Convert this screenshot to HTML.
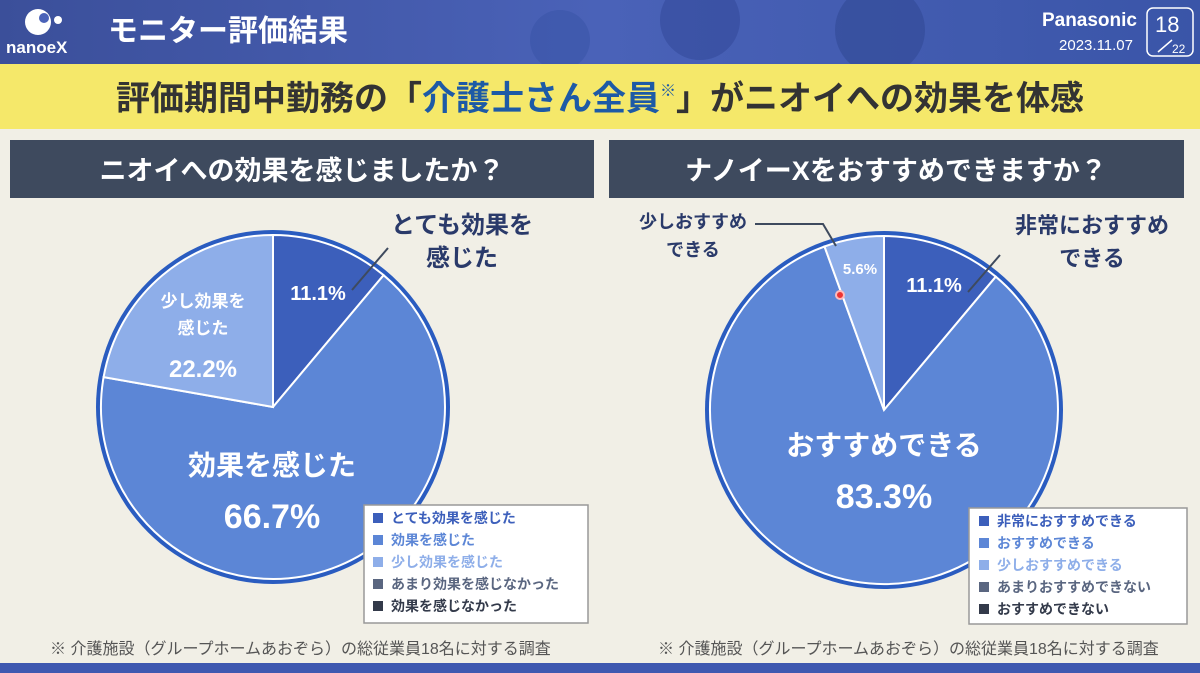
<!DOCTYPE html>
<html><head><meta charset="utf-8"><style>
body{margin:0;width:1200px;height:673px;overflow:hidden;font-family:"Liberation Sans","Noto Sans CJK JP",sans-serif;}
</style></head><body>
<svg width="1200" height="673" xmlns="http://www.w3.org/2000/svg" style="display:block">
<defs>
<linearGradient id="hd" x1="0" x2="1" y1="0" y2="0"><stop offset="0" stop-color="#3b4f9a"/><stop offset="0.5" stop-color="#4a62b8"/><stop offset="1" stop-color="#3a55a8"/></linearGradient>
</defs>
<rect width="1200" height="673" fill="#f1efe6"/>
<rect width="1200" height="64" fill="url(#hd)"/>
<circle cx="700" cy="20" r="40" fill="#2f4596" opacity="0.5"/><circle cx="880" cy="30" r="45" fill="#2e4590" opacity="0.5"/><circle cx="560" cy="40" r="30" fill="#3a55a8" opacity="0.6"/>
<rect y="64" width="1200" height="65" fill="#f5e86a"/>
<rect y="663" width="1200" height="10" fill="#3f58b0"/>
<circle cx="38" cy="22" r="13" fill="#fff"/><circle cx="44" cy="18" r="5" fill="#4a62b8"/><circle cx="58" cy="20" r="4" fill="#fff"/>
<text x="6" y="53" font-size="17" fill="#fff" font-weight="bold">nanoeX</text>
<text x="108" y="41" font-size="30" font-weight="bold" fill="#fff">モニター評価結果</text>
<text x="1137" y="26" font-size="19" font-weight="bold" fill="#fff" text-anchor="end">Panasonic</text>
<text x="1133" y="50" font-size="15" fill="#fff" text-anchor="end">2023.11.07</text>
<rect x="1147" y="8" width="46" height="48" rx="6" fill="none" stroke="#fff" stroke-width="1.5"/>
<text x="1155" y="32" font-size="22" fill="#fff">18</text>
<line x1="1158" y1="52" x2="1172" y2="40" stroke="#fff" stroke-width="1.5"/>
<text x="1172" y="53" font-size="12" fill="#fff">22</text>
<text x="600" y="110" font-size="34" font-weight="bold" fill="#333" text-anchor="middle">評価期間中勤務の「<tspan fill="#1d5aa6">介護士さん全員</tspan><tspan font-size="16" dy="-14" fill="#1d5aa6">※</tspan><tspan dy="14">」がニオイへの効果を体感</tspan></text>
<rect x="10" y="140" width="584" height="58" fill="#3e4a5e"/>
<text x="302" y="180" font-size="27" font-weight="bold" fill="#fff" text-anchor="middle">ニオイへの効果を感じましたか？</text>
<rect x="609" y="140" width="575" height="58" fill="#3e4a5e"/>
<text x="896" y="180" font-size="27" font-weight="bold" fill="#fff" text-anchor="middle">ナノイーXをおすすめできますか？</text>
<circle cx="273" cy="407" r="177" fill="#2a5cc0"/>
<path d="M273,407 L273,235 A172,172 0 0 1 383.6,275.2 Z" fill="#3c5fbb" stroke="#fff" stroke-width="2"/>
<path d="M273,407 L383.6,275.2 A172,172 0 1 1 103.6,377.1 Z" fill="#5c86d6" stroke="#fff" stroke-width="2"/>
<path d="M273,407 L103.6,377.1 A172,172 0 0 1 273,235 Z" fill="#8eaee9" stroke="#fff" stroke-width="2"/>
<text x="318" y="300" font-size="20" font-weight="bold" fill="#fff" text-anchor="middle">11.1%</text>
<text x="203" y="307" font-size="17" font-weight="bold" fill="#fff" text-anchor="middle">少し効果を</text>
<text x="203" y="334" font-size="17" font-weight="bold" fill="#fff" text-anchor="middle">感じた</text>
<text x="203" y="377" font-size="24" font-weight="bold" fill="#fff" text-anchor="middle">22.2%</text>
<text x="272" y="475" font-size="28" font-weight="bold" fill="#fff" text-anchor="middle">効果を感じた</text>
<text x="272" y="528" font-size="34" font-weight="bold" fill="#fff" text-anchor="middle">66.7%</text>
<line x1="352" y1="290" x2="388" y2="248" stroke="#3e4a5e" stroke-width="2"/>
<text x="462" y="233" font-size="24" font-weight="bold" fill="#2a3a6a" text-anchor="middle">とても効果を</text>
<text x="462" y="266" font-size="24" font-weight="bold" fill="#2a3a6a" text-anchor="middle">感じた</text>
<rect x="364" y="505" width="224" height="118" fill="#fff" stroke="#999" stroke-width="1.5"/>
<g font-size="14" font-weight="bold">
<rect x="373" y="513" width="10" height="10" fill="#3c5fbb"/><text x="391" y="523" fill="#3c5fbb">とても効果を感じた</text>
<rect x="373" y="535" width="10" height="10" fill="#5c86d6"/><text x="391" y="545" fill="#5c86d6">効果を感じた</text>
<rect x="373" y="557" width="10" height="10" fill="#8eaee9"/><text x="391" y="567" fill="#8eaee9">少し効果を感じた</text>
<rect x="373" y="579" width="10" height="10" fill="#5a6680"/><text x="391" y="589" fill="#5a6680">あまり効果を感じなかった</text>
<rect x="373" y="601" width="10" height="10" fill="#333a4a"/><text x="391" y="611" fill="#333a4a">効果を感じなかった</text>
</g>
<text x="50" y="654" font-size="16" fill="#555">※ 介護施設（グループホームあおぞら）の総従業員18名に対する調査</text>
<circle cx="884" cy="410" r="179" fill="#2a5cc0"/>
<path d="M884,410 L884,236 A174,174 0 0 1 995.8,276.7 Z" fill="#3c5fbb" stroke="#fff" stroke-width="2"/>
<path d="M884,410 L995.8,276.7 A174,174 0 1 1 824.5,246.5 Z" fill="#5c86d6" stroke="#fff" stroke-width="2"/>
<path d="M884,410 L824.5,246.5 A174,174 0 0 1 884,236 Z" fill="#8eaee9" stroke="#fff" stroke-width="2"/>
<circle cx="840" cy="295" r="4" fill="#e33" stroke="#fbb" stroke-width="2"/>
<text x="934" y="292" font-size="20" font-weight="bold" fill="#fff" text-anchor="middle">11.1%</text>
<text x="860" y="274" font-size="15" font-weight="bold" fill="#fff" text-anchor="middle">5.6%</text>
<text x="884" y="455" font-size="28" font-weight="bold" fill="#fff" text-anchor="middle">おすすめできる</text>
<text x="884" y="508" font-size="34" font-weight="bold" fill="#fff" text-anchor="middle">83.3%</text>
<polyline points="755,224 823,224 836,246" fill="none" stroke="#3e4a5e" stroke-width="2"/>
<text x="693" y="228" font-size="18" font-weight="bold" fill="#2a3a6a" text-anchor="middle">少しおすすめ</text>
<text x="693" y="256" font-size="18" font-weight="bold" fill="#2a3a6a" text-anchor="middle">できる</text>
<line x1="968" y1="292" x2="1000" y2="255" stroke="#3e4a5e" stroke-width="2"/>
<text x="1092" y="233" font-size="22" font-weight="bold" fill="#2a3a6a" text-anchor="middle">非常におすすめ</text>
<text x="1092" y="266" font-size="22" font-weight="bold" fill="#2a3a6a" text-anchor="middle">できる</text>
<rect x="969" y="508" width="218" height="116" fill="#fff" stroke="#999" stroke-width="1.5"/>
<g font-size="14" font-weight="bold">
<rect x="979" y="516" width="10" height="10" fill="#3c5fbb"/><text x="997" y="526" fill="#3c5fbb">非常におすすめできる</text>
<rect x="979" y="538" width="10" height="10" fill="#5c86d6"/><text x="997" y="548" fill="#5c86d6">おすすめできる</text>
<rect x="979" y="560" width="10" height="10" fill="#8eaee9"/><text x="997" y="570" fill="#8eaee9">少しおすすめできる</text>
<rect x="979" y="582" width="10" height="10" fill="#5a6680"/><text x="997" y="592" fill="#5a6680">あまりおすすめできない</text>
<rect x="979" y="604" width="10" height="10" fill="#333a4a"/><text x="997" y="614" fill="#333a4a">おすすめできない</text>
</g>
<text x="658" y="654" font-size="16" fill="#555">※ 介護施設（グループホームあおぞら）の総従業員18名に対する調査</text>
</svg>
</body></html>
